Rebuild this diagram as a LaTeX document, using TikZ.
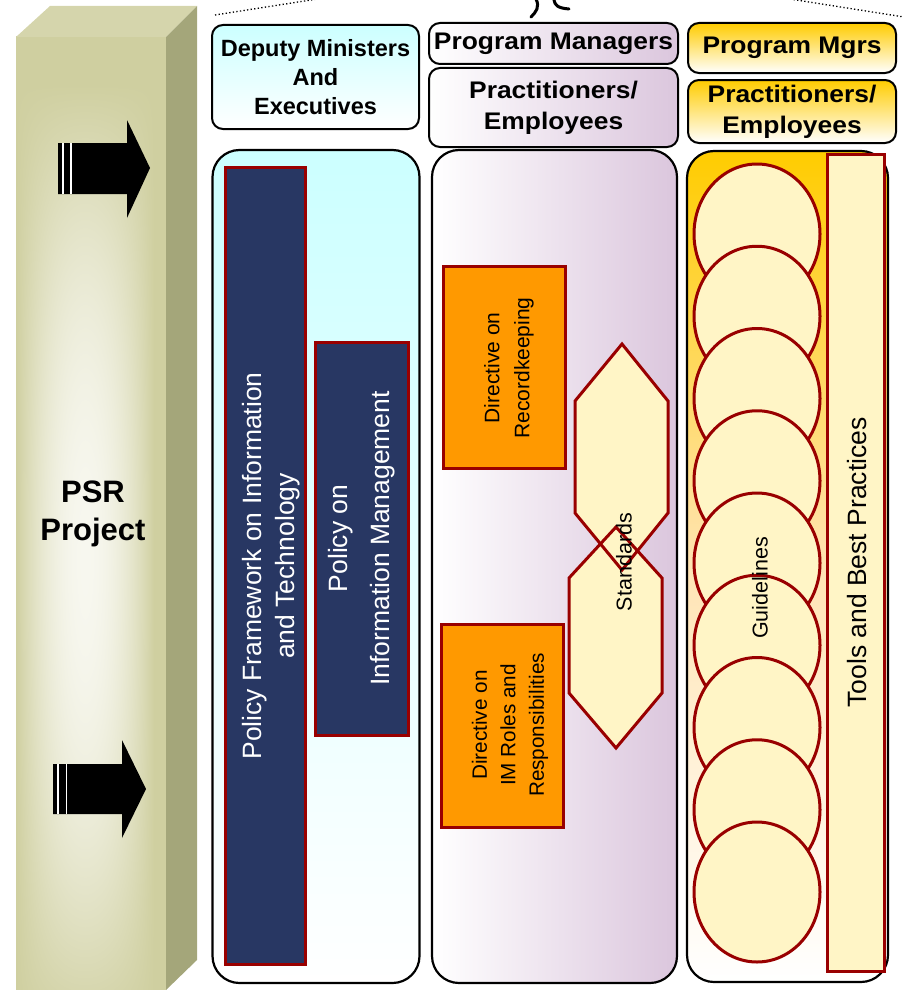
\documentclass[tikz,border=0pt]{standalone}
\usepackage{fontspec}
\setmainfont{Liberation Sans}
\newfontfamily\widesans[FakeStretch=1.1]{Liberation Sans}
\usetikzlibrary{shapes.geometric}

\definecolor{barEdge}{HTML}{CFCFA0}
\definecolor{barTop}{HTML}{D5D5AC}
\definecolor{barSide}{HTML}{A4A67A}
\definecolor{iceBlue}{HTML}{CCFFFF}
\definecolor{mauve}{HTML}{DBC6DD}
\definecolor{goldTop}{HTML}{FFCC00}
\definecolor{peach}{HTML}{FFE4B4}
\definecolor{navyFill}{HTML}{283763}
\definecolor{darkRed}{HTML}{990000}
\definecolor{orangeFill}{HTML}{FF9900}
\definecolor{creamFill}{HTML}{FFF5C6}

% front face of the bar: olive at the rim, pale in the middle
% (the path is mapped onto the central 25bp..75bp square)
\pgfdeclarefunctionalshading{barface}{\pgfpoint{0bp}{0bp}}{\pgfpoint{100bp}{100bp}}{}{
  47.5 sub 25 div dup mul 1 exch sub dup abs add 2 div
  exch 48 sub 23 div dup mul 1 exch sub dup abs add 2 div
  mul dup dup
  0.31 mul 0.627 add
  exch 0.157 mul 0.812 add
  exch 3 -1 roll
  0.157 mul 0.812 add
  3 1 roll
}

\begin{document}
\begin{tikzpicture}[x=1pt,y=-1pt,
  hdr/.style={draw=black, line width=2pt, rounded corners=11pt, inner sep=0pt, align=center,
    font=\widesans\bfseries\fontsize{24}{31}\selectfont},
  column/.style={draw=black, line width=2.2pt, rounded corners=27pt, inner sep=0pt},
  redframe/.style={draw=darkRed, line width=3pt, inner sep=0pt},
  navybox/.style={redframe, fill=navyFill},
  orangebox/.style={redframe, fill=orangeFill},
  vlabel/.style={rotate=90, align=center, inner sep=0pt},
  disc/.style={ellipse, draw=darkRed, fill=creamFill, line width=3pt, inner sep=0pt,
    minimum width=126pt, minimum height=140pt},
  hexline/.style={draw=darkRed, line width=3pt, line join=miter},
  blockarrow/.style={fill=black},
  stripe/.style={draw=white, line width=1.4pt},
  dots/.style={line width=1.3pt, dash pattern=on 1.3pt off 2.3pt}]

\useasboundingbox (0,0) rectangle (902,990);
\clip (0,0) rectangle (902,990);

% ---- PSR project bar (3D block) ----
\shade[shading=barface] (16,37) rectangle (166,990);
\fill[barTop] (16,37) -- (50,6) -- (197,6) -- (166,37) -- cycle;
\fill[barSide] (166,37) -- (197,6) -- (197,960) -- (166,990) -- cycle;

\fill[blockarrow] (58,143) -- (127,143) -- (127,120) -- (150,168) -- (127,218) -- (127,194) -- (58,194) -- cycle;
\draw[stripe] (62.8,143) -- (62.8,194);
\draw[stripe] (70.8,143) -- (70.8,194);
\fill[blockarrow] (53,764) -- (122,764) -- (122,740) -- (146,789) -- (122,838) -- (122,814) -- (53,814) -- cycle;
\draw[stripe] (57.8,764) -- (57.8,814);
\draw[stripe] (66.5,764) -- (66.5,814);

\node[font=\bfseries\fontsize{31}{38}\selectfont, align=center] (psr) at (93,514) {PSR\\Project};

% ---- callout lines and brace above the columns ----
\draw[dots] (215,15) -- (330,-3);
\draw[dots] (790,-1) -- (904,17);
\draw[line width=3pt, line cap=round] (531,17) .. controls (536,12) and (540,7) .. (536,-1);
\draw[line width=3pt, line cap=round] (554,0) .. controls (555,5) and (557,8) .. (569,9);

% ---- column 1: executives ----
\node[hdr, top color=iceBlue, bottom color=white, minimum width=207pt, minimum height=104pt,
  font=\bfseries\fontsize{23.5}{29}\selectfont] (dme) at (315.5,77) {Deputy Ministers\\And\\Executives};
\node[column, top color=iceBlue, bottom color=white, minimum width=207pt, minimum height=833pt] (colA) at (316,566.5) {};
\node[navybox, minimum width=80pt, minimum height=797pt] (pfit) at (265,566) {};
\node[vlabel, text=white, font=\fontsize{26.5}{33}\selectfont] (pfitText) at (271,566)
  {Policy Framework on Information\\and Technology};
\node[navybox, minimum width=93pt, minimum height=393pt] (pim) at (361.5,538.5) {};
\node[vlabel, text=white, font=\fontsize{26.5}{42}\selectfont] (pimText) at (361.5,538.5)
  {Policy on\\Information Management};

% ---- column 2: program managers and practitioners ----
\node[hdr, left color=white, right color=mauve, minimum width=249pt, minimum height=41pt] (pm) at (553.5,43.5) {Program Managers};
\node[hdr, left color=white, right color=mauve, minimum width=249pt, minimum height=79pt] (pe) at (553.5,107.5) {Practitioners/\\Employees};
\node[column, left color=white, right color=mauve, minimum width=245pt, minimum height=833pt] (colB) at (554.5,566.5) {};
\node[orangebox, minimum width=122pt, minimum height=202pt] (drk) at (504,367) {};
\node[vlabel, font=\fontsize{21}{30}\selectfont] (drkText) at (509,368) {Directive on\\Recordkeeping};
\node[orangebox, minimum width=122pt, minimum height=203pt] (dim) at (502,725.5) {};
\node[vlabel, font=\fontsize{20.7}{28.5}\selectfont] (dimText) at (510,725) {Directive on\\IM Roles and\\Responsibilities};

\fill[creamFill] (622,344) -- (668,401) -- (668,513) -- (622,570) -- (575,513) -- (575,401) -- cycle;
\fill[creamFill] (616,527) -- (662,578) -- (662,693) -- (616,748) -- (569,693) -- (569,578) -- cycle;
\draw[hexline] (622,344) -- (668,401) -- (668,513) -- (622,570) -- (575,513) -- (575,401) -- cycle;
\draw[hexline] (616,527) -- (662,578) -- (662,693) -- (616,748) -- (569,693) -- (569,578) -- cycle;
\node[vlabel, font=\fontsize{21.5}{24}\selectfont] (std) at (624,562) {Standards};

% ---- column 3: program managers and practitioners ----
\node[hdr, top color=goldTop, bottom color=white, minimum width=208pt, minimum height=50pt] (pmg) at (792,48) {Program Mgrs};
\node[hdr, top color=goldTop, bottom color=white, minimum width=208pt, minimum height=63pt] (pe2) at (792,111.5) {Practitioners/\\Employees};
\node[column, top color=goldTop, bottom color=white, middle color=peach, minimum width=201pt, minimum height=831pt] (colC) at (787.5,566.5) {};
\foreach \k in {0,...,8}
  \node[disc] (g\k) at (757,{234+82.25*\k}) {};
\node[vlabel, font=\fontsize{21.5}{24}\selectfont] (guide) at (760,588) {Guidelines};
\node[redframe, fill=creamFill, minimum width=57pt, minimum height=817pt] (tools) at (855.5,562.5) {};
\node[vlabel, font=\fontsize{26.5}{32}\selectfont] (toolsText) at (857,562.5) {Tools and Best Practices};

\end{tikzpicture}
\end{document}
